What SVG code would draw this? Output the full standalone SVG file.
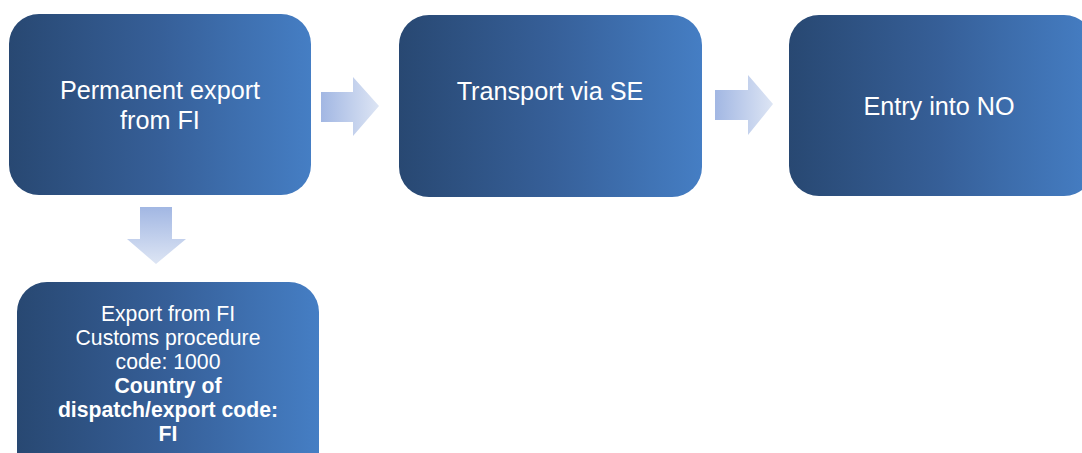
<svg xmlns="http://www.w3.org/2000/svg" width="1082" height="453" viewBox="0 0 1082 453">
<defs>
<linearGradient id="box" x1="0" y1="0" x2="1" y2="0">
<stop offset="0" stop-color="#284872"/>
<stop offset="0.5" stop-color="#365f98"/>
<stop offset="1" stop-color="#457ec4"/>
</linearGradient>
<linearGradient id="arH" x1="0" y1="0" x2="1" y2="0">
<stop offset="0" stop-color="#a2b7e3"/>
<stop offset="1" stop-color="#dde5f4"/>
</linearGradient>
<linearGradient id="arV" x1="0" y1="0" x2="0" y2="1">
<stop offset="0" stop-color="#a2b7e3"/>
<stop offset="1" stop-color="#dde5f4"/>
</linearGradient>
<style>
.box{fill:url(#box);}
.t{font-family:"Liberation Sans",Arial,sans-serif;fill:#ffffff;text-anchor:middle;}
.big{font-size:25.2px;}
.sm{font-size:21.2px;}
.b{font-weight:bold;}
</style>
</defs>
<rect width="1082" height="453" fill="#ffffff"/>
<g id="connectors">
<path d="M321,92 H353 V77 L379,106 L353,136 V122 H321 Z" fill="url(#arH)"/>
<path d="M715,90 H748 V75 L773,104 L748,135 V120 H715 Z" fill="url(#arH)"/>
<path d="M140,207 H172 V239 H186 L156,264 L127,239 H140 Z" fill="url(#arV)"/>
</g>
<g id="node-export">
<rect class="box" x="9" y="14" width="302" height="181" rx="30"/>
<text class="t big" x="160" y="99">Permanent export</text>
<text class="t big" x="160" y="129">from FI</text>
</g>
<g id="node-transport">
<rect class="box" x="399" y="15" width="303" height="182" rx="30"/>
<text class="t big" x="550" y="100">Transport via SE</text>
</g>
<g id="node-entry">
<rect class="box" x="789" y="15" width="305" height="181" rx="30"/>
<text class="t big" x="939" y="115">Entry into NO</text>
</g>
<g id="node-details">
<rect class="box" x="17" y="282" width="302" height="200" rx="30"/>
<text class="t sm" x="168" y="321">Export from FI</text>
<text class="t sm" x="168" y="345">Customs procedure</text>
<text class="t sm" x="168" y="369">code: 1000</text>
<text class="t sm b" x="168" y="393">Country of</text>
<text class="t sm b" x="168" y="417">dispatch/export code:</text>
<text class="t sm b" x="168" y="441">FI</text>
</g>
</svg>
